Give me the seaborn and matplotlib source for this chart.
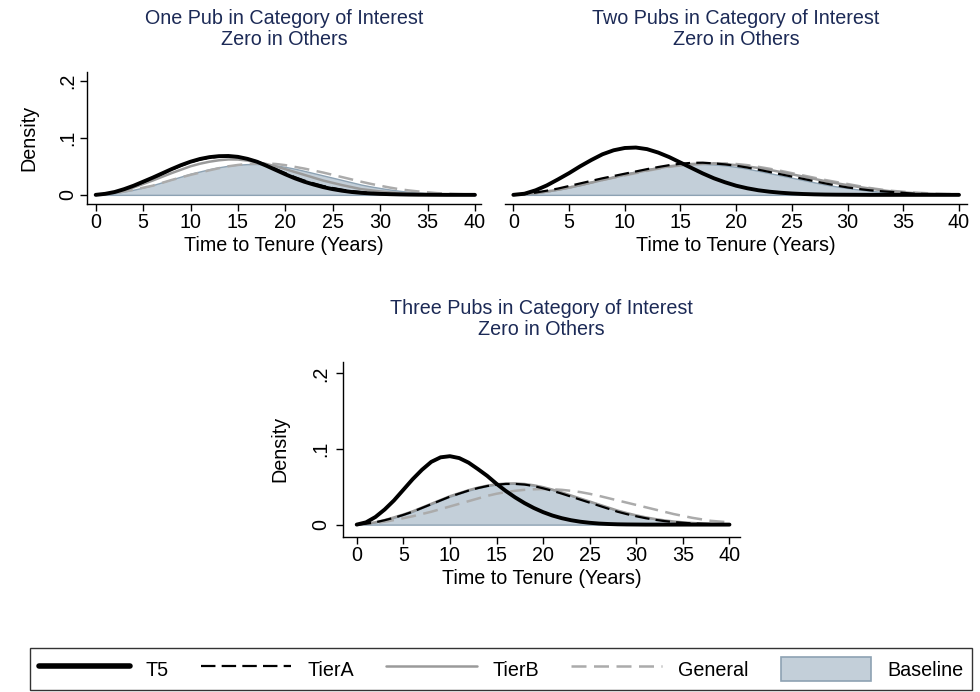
import numpy as np
import pandas as pd
import matplotlib
matplotlib.use("Agg")
import matplotlib.pyplot as plt
import seaborn as sns
from matplotlib.lines import Line2D
from matplotlib.patches import Patch

# ---- data (one value per year 0..40) ----
years = list(range(41))

baseline = [0, 0.0012, 0.003, 0.0058, 0.009, 0.0128, 0.017, 0.022, 0.027, 0.032, 0.037,
            0.041, 0.045, 0.0483, 0.051, 0.0528, 0.0538, 0.054, 0.0532, 0.0515, 0.049,
            0.0458, 0.042, 0.038, 0.034, 0.030, 0.026, 0.022, 0.018, 0.0148, 0.012,
            0.0094, 0.0072, 0.0054, 0.004, 0.0029, 0.002, 0.0014, 0.001, 0.0006, 0.0003]

# one pub in category of interest
t5_one = [0, 0.0018, 0.005, 0.010, 0.016, 0.023, 0.030, 0.0375, 0.045, 0.052, 0.058,
          0.0628, 0.066, 0.0677, 0.068, 0.0665, 0.063, 0.058, 0.051, 0.0435, 0.036,
          0.029, 0.023, 0.018, 0.0135, 0.010, 0.0072, 0.005, 0.0035, 0.0025, 0.0017,
          0.0012, 0.0008, 0.0005, 0.0003, 0.0002, 0.0001, 0, 0, 0, 0]
tiera_one = [0, 0.0017, 0.0048, 0.0095, 0.0153, 0.022, 0.029, 0.0365, 0.044, 0.051, 0.057,
             0.0618, 0.065, 0.0668, 0.0672, 0.066, 0.063, 0.0585, 0.052, 0.045, 0.038,
             0.031, 0.025, 0.020, 0.0155, 0.012, 0.009, 0.0066, 0.0048, 0.0034, 0.0024,
             0.0017, 0.0012, 0.0008, 0.0005, 0.0003, 0.0002, 0.0001, 0, 0, 0]
tierb_one = [0, 0.0015, 0.004, 0.008, 0.013, 0.019, 0.025, 0.0315, 0.038, 0.044, 0.050,
             0.0545, 0.058, 0.0605, 0.062, 0.0618, 0.060, 0.0573, 0.054, 0.0498, 0.045,
             0.040, 0.035, 0.030, 0.025, 0.021, 0.017, 0.0135, 0.010, 0.008, 0.006,
             0.0044, 0.003, 0.0022, 0.0015, 0.001, 0.0006, 0.0004, 0.0002, 0.0001, 0]
general_one = [0, 0.0012, 0.003, 0.0058, 0.009, 0.0125, 0.016, 0.021, 0.026, 0.0305, 0.035,
               0.039, 0.043, 0.0467, 0.050, 0.0523, 0.054, 0.0548, 0.055, 0.054, 0.052,
               0.049, 0.046, 0.0425, 0.039, 0.035, 0.031, 0.027, 0.023, 0.0193, 0.016,
               0.0128, 0.010, 0.0078, 0.006, 0.0045, 0.003, 0.0022, 0.0015, 0.001, 0.0005]

# two pubs in category of interest
t5_two = [0, 0.002, 0.008, 0.0165, 0.027, 0.038, 0.050, 0.061, 0.071, 0.078, 0.082,
          0.0828, 0.080, 0.074, 0.066, 0.0565, 0.047, 0.0375, 0.029, 0.022, 0.016,
          0.0115, 0.008, 0.0055, 0.0037, 0.0024, 0.0015, 0.0009, 0.0005, 0.0003, 0.0002,
          0.0001, 0, 0, 0, 0, 0, 0, 0, 0, 0]
tiera_two = [0, 0.0015, 0.004, 0.0073, 0.011, 0.0155, 0.020, 0.0245, 0.029, 0.033, 0.037,
             0.041, 0.045, 0.0487, 0.052, 0.0545, 0.056, 0.0563, 0.055, 0.0533, 0.051,
             0.0478, 0.044, 0.040, 0.036, 0.032, 0.028, 0.024, 0.020, 0.0163, 0.013,
             0.0103, 0.008, 0.0063, 0.005, 0.0035, 0.002, 0.0015, 0.001, 0.0006, 0.0003]
tierb_two = [0, 0.0012, 0.003, 0.0058, 0.009, 0.0128, 0.017, 0.0215, 0.026, 0.0305, 0.035,
             0.039, 0.043, 0.0467, 0.050, 0.0523, 0.054, 0.0548, 0.055, 0.0538, 0.052,
             0.0497, 0.047, 0.0437, 0.040, 0.036, 0.032, 0.028, 0.024, 0.0203, 0.017,
             0.0138, 0.011, 0.0083, 0.006, 0.0044, 0.003, 0.0022, 0.0015, 0.001, 0.0005]
general_two = [0, 0.0012, 0.003, 0.0058, 0.009, 0.0128, 0.017, 0.0215, 0.026, 0.030, 0.034,
               0.038, 0.042, 0.0457, 0.049, 0.0513, 0.053, 0.0543, 0.055, 0.055, 0.054,
               0.052, 0.049, 0.0457, 0.042, 0.038, 0.034, 0.030, 0.026, 0.0224, 0.019,
               0.0154, 0.012, 0.0093, 0.007, 0.0054, 0.004, 0.003, 0.002, 0.0015, 0.001]

# three pubs in category of interest
t5_three = [0, 0.003, 0.010, 0.020, 0.032, 0.046, 0.060, 0.0725, 0.083, 0.089, 0.0905,
            0.088, 0.082, 0.0735, 0.0645, 0.054, 0.0445, 0.036, 0.0285, 0.022, 0.0165,
            0.012, 0.0085, 0.0058, 0.0038, 0.0024, 0.0014, 0.0008, 0.0004, 0.0002, 0.0001,
            0, 0, 0, 0, 0, 0, 0, 0, 0, 0]
tiera_three = [0, 0.0012, 0.003, 0.0058, 0.009, 0.0128, 0.017, 0.022, 0.027, 0.032, 0.037,
               0.041, 0.045, 0.0483, 0.051, 0.0528, 0.0538, 0.0538, 0.053, 0.051, 0.048,
               0.0447, 0.041, 0.037, 0.033, 0.029, 0.025, 0.021, 0.017, 0.0138, 0.011,
               0.0085, 0.0064, 0.0047, 0.0034, 0.0024, 0.0016, 0.0011, 0.0007, 0.0004, 0.0002]
tierb_three = [0, 0.0012, 0.003, 0.006, 0.0095, 0.0133, 0.0175, 0.0225, 0.0275, 0.0325, 0.0375,
               0.0415, 0.0455, 0.0488, 0.0515, 0.0533, 0.0543, 0.0545, 0.0537, 0.052, 0.0495,
               0.0463, 0.0425, 0.0385, 0.0345, 0.0305, 0.0265, 0.0225, 0.0185, 0.0152, 0.0122,
               0.0096, 0.0074, 0.0056, 0.0041, 0.003, 0.0021, 0.0015, 0.001, 0.0006, 0.0003]
general_three = [0, 0.0008, 0.002, 0.0038, 0.006, 0.0085, 0.011, 0.014, 0.017, 0.0205, 0.024,
                 0.0275, 0.031, 0.0345, 0.038, 0.0408, 0.043, 0.0447, 0.046, 0.0467, 0.047,
                 0.0467, 0.046, 0.0447, 0.043, 0.0407, 0.038, 0.035, 0.032, 0.029, 0.026,
                 0.023, 0.020, 0.017, 0.014, 0.0115, 0.009, 0.007, 0.005, 0.004, 0.003]

titles = ["One Pub in Category of Interest\nZero in Others",
          "Two Pubs in Category of Interest\nZero in Others",
          "Three Pubs in Category of Interest\nZero in Others"]
series_names = ["T5", "TierA", "TierB", "General", "Baseline"]
x_ticks = [0, 5, 10, 15, 20, 25, 30, 35, 40]
y_ticks = [0, 0.1, 0.2]
y_ticklabels = ["0", ".1", ".2"]

# ---- style ----
sns.set_style("white")
plt.rcParams["font.family"] = ["Liberation Sans", "DejaVu Sans"]
FS = 14.2
TITLE_COLOR = "#1c2a56"
FILL = "#c3cfd9"
FILL_EDGE = "#8da2b3"
styles = {
    "T5": dict(color="black", lw=2.8, ls="-"),
    "TierA": dict(color="black", lw=1.6, ls=(0, (6.5, 2.8))),
    "TierB": dict(color="#9a9a9a", lw=1.8, ls="-"),
    "General": dict(color="#ababab", lw=1.8, ls=(0, (6.0, 3.0))),
}

W, H = 980, 692
fig = plt.figure(figsize=(W / 100, H / 100), dpi=100)


def px_axes(left, right, top, bottom):
    return fig.add_axes([left / W, 1 - bottom / H, (right - left) / W, (bottom - top) / H])


panels = [
    dict(box=(86.7, 481, 71.7, 204), xlim=(-0.95, 40.64), yaxis=True, ypad=(2, 14.4),
         t5=t5_one, tiera=tiera_one, tierb=tierb_one, general=general_one),
    dict(box=(505, 967, 71.7, 204), xlim=(-0.75, 40.72), yaxis=False, ypad=None,
         t5=t5_two, tiera=tiera_two, tierb=tierb_two, general=general_two),
    dict(box=(343.3, 740, 361.7, 536.7), xlim=(-1.44, 41.13), yaxis=True, ypad=(4.5, 16),
         t5=t5_three, tiera=tiera_three, tierb=tierb_three, general=general_three),
]

for p, title in zip(panels, titles):
    left, right, top, bottom = p["box"]
    ax = px_axes(left, right, top, bottom)
    ax.fill_between(years, baseline, 0, color=FILL, edgecolor=FILL_EDGE, lw=1.0, zorder=1)
    df = pd.DataFrame({"years": years, "General": p["general"], "TierB": p["tierb"],
                       "TierA": p["tiera"], "T5": p["t5"]})
    for name in ["General", "TierB", "TierA", "T5"]:
        st = styles[name]
        sns.lineplot(data=df, x="years", y=name, ax=ax, color=st["color"],
                     linewidth=st["lw"], linestyle=st["ls"], zorder=2)
    ax.set_xlim(*p["xlim"])
    ax.set_ylim(-0.016, 0.2155)
    ax.set_xticks(x_ticks)
    ax.set_xticklabels([str(v) for v in x_ticks])
    ax.tick_params(axis="x", direction="out", length=5, width=1, pad=1.5, labelsize=FS,
                   bottom=True, color="black", labelcolor="black")
    ax.set_xlabel("Time to Tenure (Years)", fontsize=FS, labelpad=3, color="black")
    for s in ["top", "right"]:
        ax.spines[s].set_visible(False)
    ax.spines["bottom"].set_color("black")
    ax.spines["bottom"].set_linewidth(1)
    if p["yaxis"]:
        tpad, lpad = p["ypad"]
        ax.set_yticks(y_ticks)
        ax.set_yticklabels(y_ticklabels, rotation=90, va="center")
        ax.tick_params(axis="y", direction="out", length=5, width=1, pad=tpad, labelsize=FS,
                       left=True, color="black", labelcolor="black")
        ax.set_ylabel("Density", fontsize=FS, labelpad=lpad, color="black")
        ax.spines["left"].set_color("black")
        ax.spines["left"].set_linewidth(1)
    else:
        ax.spines["left"].set_visible(False)
        ax.set_yticks([])
        ax.set_ylabel("")
    cx = (left + right) / 2 / W
    cy = 1 - (top - 43) / H
    fig.text(cx, cy, title, ha="center", va="center", fontsize=FS, color=TITLE_COLOR,
             linespacing=1.12)

handles = [Line2D([], [], color=styles[n]["color"],
                  lw=styles[n]["lw"] + (1.2 if n == "T5" else 0), ls=styles[n]["ls"])
           for n in ["T5", "TierA", "TierB", "General"]]
handles.append(Patch(facecolor=FILL, edgecolor=FILL_EDGE, lw=1.2))
leg = fig.legend(handles, series_names, loc="lower left", ncol=5, mode="expand",
                 bbox_to_anchor=(30 / W, 2 / H, 942 / W, 44 / H), fontsize=FS,
                 frameon=True, fancybox=False, edgecolor="black", handlelength=4.6,
                 handleheight=1.5, handletextpad=0.8, borderaxespad=0, borderpad=0.45)
leg.get_frame().set_linewidth(1.0)
for t in leg.get_texts():
    t.set_color("black")

fig.savefig("out.png", dpi=100)
